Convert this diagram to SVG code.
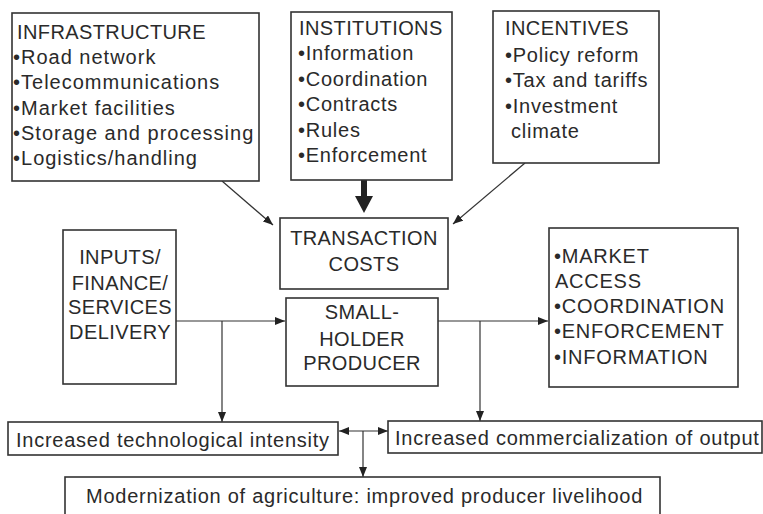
<svg xmlns="http://www.w3.org/2000/svg" width="763" height="514" viewBox="0 0 763 514">
<defs>
<style>
.box{fill:#fff;stroke:#333;stroke-width:1.6}
.t{font-family:"Liberation Sans",Arial,sans-serif;font-size:20px;fill:#2a2a2a;letter-spacing:0.75px}
.caps{letter-spacing:0.4px}
.wide{letter-spacing:1px}
.c{text-anchor:middle}
.ln{fill:none;stroke:#333;stroke-width:1.2}
</style>
<marker id="ah" viewBox="0 0 10 8" refX="10" refY="4" markerWidth="10" markerHeight="8" markerUnits="userSpaceOnUse" orient="auto-start-reverse">
<path d="M0,0 L10,4 L0,8 z" fill="#222"/>
</marker>
</defs>
<rect width="763" height="514" fill="#fff"/>
<g id="connectors">
<line class="ln" x1="222" y1="181" x2="273" y2="225" marker-end="url(#ah)"/>
<line class="ln" x1="525" y1="163" x2="453" y2="224" marker-end="url(#ah)"/>
<line class="ln" x1="176" y1="321" x2="285" y2="321" marker-end="url(#ah)"/>
<line class="ln" x1="222" y1="321" x2="222" y2="422" marker-end="url(#ah)"/>
<line class="ln" x1="438" y1="321" x2="548" y2="321" marker-end="url(#ah)"/>
<line class="ln" x1="480" y1="321" x2="480" y2="421" marker-end="url(#ah)"/>
<line class="ln" x1="339" y1="431" x2="388" y2="431" marker-start="url(#ah)" marker-end="url(#ah)"/>
<line class="ln" x1="363" y1="431" x2="363" y2="477" marker-end="url(#ah)"/>
<polygon points="361,180 367,180 367,196 373,196 364,213 355,196 361,196" fill="#222"/>
</g>
<g id="infrastructure">
<rect class="box" x="12" y="13" width="247" height="168"/>
<text class="t wide" x="14" y="39"><tspan class="caps" x="17">INFRASTRUCTURE</tspan><tspan x="13" y="64">•Road network</tspan><tspan x="13" y="89">•Telecommunications</tspan><tspan x="13" y="115">•Market facilities</tspan><tspan x="13" y="140">•Storage and processing</tspan><tspan x="13" y="165">•Logistics/handling</tspan></text>
</g>
<g id="institutions">
<rect class="box" x="291" y="12" width="161" height="168"/>
<text class="t" x="299" y="35"><tspan class="caps" x="299">INSTITUTIONS</tspan><tspan x="298" y="60">•Information</tspan><tspan x="298" y="86">•Coordination</tspan><tspan x="298" y="111">•Contracts</tspan><tspan x="298" y="137">•Rules</tspan><tspan x="298" y="162">•Enforcement</tspan></text>
</g>
<g id="incentives">
<rect class="box" x="493" y="11" width="166" height="152"/>
<text class="t" x="505" y="35"><tspan class="caps" x="505">INCENTIVES</tspan><tspan x="505" y="62">•Policy reform</tspan><tspan x="505" y="87">•Tax and tariffs</tspan><tspan x="505" y="113">•Investment</tspan><tspan x="511" y="138">climate</tspan></text>
</g>
<g id="transaction-costs">
<rect class="box" x="280" y="218" width="168" height="71"/>
<text class="t caps c" x="364" y="245">TRANSACTION<tspan x="364" y="271">COSTS</tspan></text>
</g>
<g id="inputs">
<rect class="box" x="63" y="230" width="113" height="154"/>
<text class="t caps c" x="120" y="264">INPUTS/<tspan x="120" y="290">FINANCE/</tspan><tspan x="120" y="314">SERVICES</tspan><tspan x="120" y="339">DELIVERY</tspan></text>
</g>
<g id="smallholder">
<rect class="box" x="286" y="298" width="152" height="88"/>
<text class="t caps c" x="362" y="319">SMALL-<tspan x="362" y="346">HOLDER</tspan><tspan x="362" y="370">PRODUCER</tspan></text>
</g>
<g id="market">
<rect class="box" x="549" y="228" width="189" height="159"/>
<text class="t" x="554" y="263">•MARKET<tspan x="555" y="288">ACCESS</tspan><tspan x="554" y="313">•COORDINATION</tspan><tspan x="554" y="338">•ENFORCEMENT</tspan><tspan x="554" y="364">•INFORMATION</tspan></text>
</g>
<g id="technological">
<rect class="box" x="8" y="422" width="330" height="33"/>
<text class="t" x="16" y="447">Increased technological intensity</text>
</g>
<g id="commercialization">
<rect class="box" x="388" y="421" width="374" height="32"/>
<text class="t" x="395" y="445">Increased commercialization of output</text>
</g>
<g id="modernization">
<rect class="box" x="65" y="477" width="595" height="50"/>
<text class="t" x="86" y="503">Modernization of agriculture: improved producer livelihood</text>
</g>
</svg>
